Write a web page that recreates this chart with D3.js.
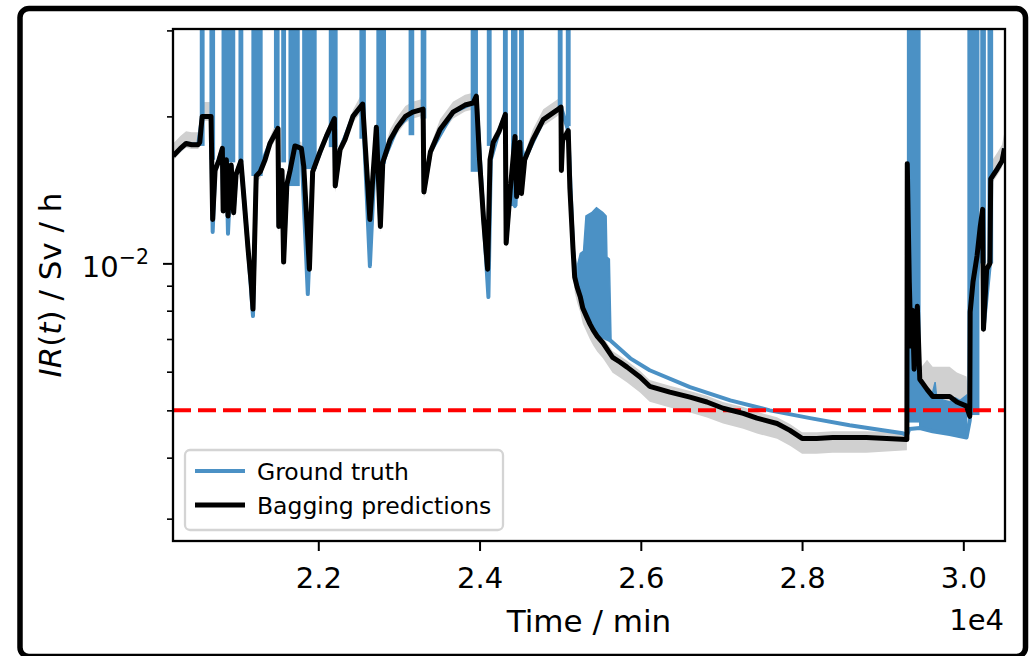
<!DOCTYPE html>
<html>
<head>
<meta charset="utf-8">
<script src="https://cdn.jsdelivr.net/npm/d3@7"></script>
<style>
  html, body { margin: 0; padding: 0; background: #fff; }
  svg { display: block; font-family: "DejaVu Sans", sans-serif; }
</style>
</head>
<body>
<svg id="chart" width="1033" height="656"></svg>
<script>
// bagging predictions (mean of the ensemble), time in minutes, IR in Sv/h
const predTime = [20200, 20290, 20360, 20430, 20510, 20530, 20560, 20670, 20690, 20720,
  20770, 20810, 20820, 20860, 20880, 20920, 20950, 20980, 21040, 21080,
  21130, 21170, 21190, 21230, 21280, 21340, 21400, 21500, 21510, 21550,
  21570, 21610, 21650, 21710, 21790, 21820, 21890, 21930, 22020, 22100,
  22200, 22210, 22270, 22330, 22430, 22550, 22640, 22720, 22770, 22800,
  22890, 22980, 23080, 23170, 23300, 23310, 23390, 23510, 23670, 23820,
  23920, 23960, 24000, 24050, 24100, 24130, 24170, 24240, 24320, 24330,
  24380, 24440, 24460, 24500, 24520, 24560, 24660, 24790, 24960, 25010,
  25015, 25030, 25070, 25100, 25120, 25160, 25180, 25210, 25250, 25280,
  25330, 25370, 25410, 25460, 25530, 25590,
  25650, 25740, 25830, 25990, 26110, 26360, 26610, 26820, 27020, 27270,
  27440, 27690, 27850, 28000, 28180, 28380, 28800, 29300, 29305, 29330,
  29350, 29370, 29390, 29430, 29460, 29550, 29620, 29830, 29920, 30040,
  30080, 30085, 30120, 30170, 30210, 30240, 30250, 30290, 30330, 30340,
  30420, 30480, 30510];
const predValue = [0.0166, 0.0172, 0.0176, 0.0175, 0.0175, 0.0177, 0.0200, 0.0200, 0.0123, 0.0155,
  0.0163, 0.0172, 0.0128, 0.0163, 0.0125, 0.0159, 0.0127, 0.0152, 0.0162, 0.0135,
  0.01065, 0.00903, 0.00806, 0.0151, 0.0154, 0.0163, 0.0176, 0.0189, 0.0119, 0.0155,
  0.01006, 0.0145, 0.0155, 0.0174, 0.0172, 0.0158, 0.00973, 0.0154, 0.0169, 0.0182,
  0.0198, 0.0144, 0.0171, 0.0179, 0.0200, 0.0212, 0.0123, 0.0190, 0.0119, 0.0161,
  0.0179, 0.0190, 0.0200, 0.0204, 0.0207, 0.0140, 0.0169, 0.0188, 0.0204, 0.0211,
  0.0213, 0.0220, 0.0163, 0.0123, 0.00973, 0.0163, 0.0177, 0.0186, 0.0202, 0.0110,
  0.0141, 0.0182, 0.0137, 0.0177, 0.0139, 0.0163, 0.0179, 0.0197, 0.0206, 0.0209,
  0.0155, 0.0179, 0.0183, 0.0187, 0.0143, 0.01065, 0.00937, 0.00894, 0.00853, 0.00810,
  0.00776, 0.00751, 0.00730, 0.00709, 0.00687, 0.00664,
  0.00642, 0.00628, 0.00613, 0.00585, 0.00560, 0.00545, 0.00532, 0.00520, 0.00505, 0.00493,
  0.00482, 0.00470, 0.00455, 0.00438, 0.00438, 0.00440, 0.00440, 0.00436, 0.0160, 0.00916,
  0.00677, 0.00802, 0.00607, 0.00817, 0.00579, 0.00552, 0.00534, 0.00534, 0.00520, 0.00510,
  0.00486, 0.00795, 0.00916, 0.01035, 0.0119, 0.0129, 0.00733, 0.00973, 0.0100, 0.0149,
  0.0156, 0.0162, 0.0172];
// relative spread of the ensemble above / below the mean
const predSpreadUp = [0.06, 0.06, 0.06, 0.06, 0.06, 0.06, 0.07, 0.07, 0.03, 0.03,
  0.03, 0.03, 0.03, 0.03, 0.03, 0.03, 0.03, 0.03, 0.03, 0.03,
  0.03, 0.03, 0.03, 0.03, 0.03, 0.03, 0.03, 0.05, 0.03, 0.03,
  0.03, 0.03, 0.03, 0.03, 0.03, 0.03, 0.03, 0.03, 0.03, 0.03,
  0.03, 0.03, 0.03, 0.03, 0.03, 0.06, 0.03, 0.03, 0.03, 0.03,
  0.05, 0.05, 0.05, 0.05, 0.05, 0.03, 0.03, 0.05, 0.05, 0.05,
  0.05, 0.05, 0.03, 0.03, 0.03, 0.03, 0.03, 0.03, 0.03, 0.03,
  0.03, 0.03, 0.03, 0.03, 0.03, 0.03, 0.05, 0.05, 0.05, 0.05,
  0.03, 0.03, 0.03, 0.03, 0.03, 0.03, 0.03, 0.03, 0.03, 0.03,
  0.03, 0.03, 0.03, 0.03, 0.03, 0.03,
  0.03, 0.03, 0.03, 0.03, 0.03, 0.03, 0.03, 0.03, 0.03, 0.03,
  0.03, 0.03, 0.03, 0.03, 0.03, 0.03, 0.03, 0.03, 0.05, 0.05,
  0.05, 0.05, 0.05, 0.05, 0.05, 0.15, 0.15, 0.15, 0.15, 0.15,
  0.04, 0.04, 0.04, 0.04, 0.04, 0.04, 0.04, 0.04, 0.04, 0.08,
  0.08, 0.08, 0.08];
const predSpreadDown = [0.02, 0.02, 0.02, 0.02, 0.02, 0.02, 0.02, 0.02, 0.03, 0.03,
  0.03, 0.03, 0.03, 0.03, 0.03, 0.03, 0.03, 0.03, 0.03, 0.03,
  0.03, 0.03, 0.03, 0.03, 0.03, 0.03, 0.03, 0.03, 0.03, 0.03,
  0.03, 0.03, 0.03, 0.03, 0.03, 0.03, 0.03, 0.03, 0.03, 0.03,
  0.03, 0.03, 0.03, 0.03, 0.03, 0.03, 0.03, 0.03, 0.03, 0.03,
  0.03, 0.03, 0.03, 0.03, 0.03, 0.03, 0.03, 0.03, 0.03, 0.03,
  0.03, 0.03, 0.03, 0.03, 0.03, 0.03, 0.03, 0.03, 0.03, 0.03,
  0.03, 0.03, 0.03, 0.03, 0.03, 0.03, 0.03, 0.03, 0.03, 0.03,
  0.03, 0.03, 0.03, 0.03, 0.03, 0.03, 0.07, 0.07, 0.07, 0.07,
  0.07, 0.07, 0.07, 0.07, 0.07, 0.07,
  0.07, 0.07, 0.07, 0.07, 0.07, 0.07, 0.07, 0.07, 0.07, 0.07,
  0.07, 0.07, 0.07, 0.07, 0.07, 0.07, 0.07, 0.05, 0.03, 0.03,
  0.03, 0.03, 0.03, 0.03, 0.03, 0.03, 0.03, 0.03, 0.03, 0.03,
  0.03, 0.03, 0.03, 0.03, 0.03, 0.03, 0.03, 0.03, 0.03, 0.03,
  0.03, 0.03, 0.03];

// ground truth
const truthTime = [20200, 20360, 20510, 20560, 20670, 20690, 20720, 20810, 20820, 20860,
  20880, 20920, 20950, 20980, 21040, 21130, 21190, 21230, 21400, 21500,
  21510, 21550, 21570, 21610, 21710, 21790, 21870, 21930, 22100, 22200,
  22210, 22270, 22430, 22550, 22640, 22720, 22770, 22800, 22980, 23170,
  23300, 23310, 23390, 23670, 23920, 23960, 24050, 24110, 24140, 24240,
  24320, 24330, 24380, 24440, 24500, 24560, 24790, 25010, 25100, 25160,
  25200, 25250, 25290, 25330, 25400, 25490, 25620, 25870, 26110, 26610,
  27110, 27600, 28100, 28590, 29000, 29250, 29300, 29330, 29460, 29620,
  29830, 30040, 30080, 30150, 30240, 30250, 30330, 30340, 30480, 30510];
const truthValue = [0.0166, 0.0176, 0.0175, 0.0200, 0.0200, 0.0116, 0.0155, 0.0172, 0.0128, 0.0163,
  0.0115, 0.0159, 0.0127, 0.0152, 0.0162, 0.01065, 0.0078, 0.0151, 0.0176, 0.0189,
  0.0119, 0.0155, 0.0101, 0.0145, 0.0174, 0.0172, 0.00865, 0.0154, 0.0182, 0.0198,
  0.0144, 0.0171, 0.0200, 0.0212, 0.00987, 0.0190, 0.0119, 0.0161, 0.0190, 0.0204,
  0.0207, 0.0140, 0.0169, 0.0204, 0.0213, 0.0220, 0.0123, 0.00853, 0.0163, 0.0186,
  0.0202, 0.0110, 0.0141, 0.0131, 0.0177, 0.0163, 0.0197, 0.0209, 0.0187, 0.01065,
  0.0093, 0.00873, 0.0082, 0.0079, 0.0075, 0.00713, 0.00696, 0.00639, 0.00604, 0.00558,
  0.00524, 0.00500, 0.00482, 0.00466, 0.00455, 0.00449, 0.00444, 0.00458, 0.00460, 0.00453,
  0.00447, 0.00440, 0.00477, 0.00841, 0.0129, 0.00733, 0.0100, 0.0149, 0.0162, 0.0172];

// intervals where the ground truth spikes past the top of the axis
const burstStart = [20530, 20650, 20800, 21010, 21170, 21450, 21540, 21630, 21800, 22130,
  22510, 22720, 23120, 23270, 23890, 24090, 24290, 24390, 24490, 24970,
  25070, 29300, 30050, 30210, 30300];
const burstEnd = [20590, 20720, 20970, 21070, 21310, 21520, 21600, 21770, 21980, 22240,
  22590, 22840, 23190, 23340, 23980, 24150, 24350, 24470, 24550, 25030,
  25130, 29470, 30200, 30280, 30370];
const burstLow = [0.0174, 0.0163, 0.0161, 0.0161, 0.0151, 0.0189, 0.0161, 0.0144, 0.0156, 0.0173,
  0.0180, 0.0160, 0.0183, 0.0198, 0.0154, 0.0174, 0.0189, 0.0131, 0.0139, 0.0206,
  0.0191, 0.00472, 0.00489, 0.0100, 0.0100];

// fast oscillating ground truth (envelope), null splits the two stretches
const noiseTime = [25220, 25250, 25290, 25320, 25390, 25450, 25530, 25570, 25580, 25610, 25630,
  null,
  29460, 29540, 29620, 29650, 29670, 29770, 29830, 29900, 29960, 30040];
const noiseLow = [0.00903, 0.00873, 0.0084, 0.0080, 0.0076, 0.0073, 0.0071, 0.0070, 0.00698, 0.00696, 0.0069,
  null,
  0.00460, 0.00455, 0.00453, 0.00453, 0.00451, 0.00449, 0.00447, 0.00444, 0.00442, 0.00440];
const noiseHigh = [0.0100, 0.01048, 0.0106, 0.0125, 0.0127, 0.0130, 0.0127, 0.0125, 0.0103, 0.0102, 0.00707,
  null,
  0.00563, 0.00550, 0.00545, 0.00571, 0.00530, 0.00524, 0.00520, 0.00530, 0.00524, 0.00537];

const threshold = 0.005;
const xTicks = [22000, 24000, 26000, 28000, 30000];
const yMajorTicks = [0.01];
const yMinorTicks = [0.003, 0.004, 0.005, 0.006, 0.007, 0.008, 0.009, 0.02, 0.03];

const svg = d3.select("#chart");
const margin = { top: 29, right: 28, bottom: 115, left: 173 };
const width = 1033 - margin.left - margin.right;
const height = 656 - margin.top - margin.bottom;

// outer frame
svg.append("rect")
  .attr("x", 20).attr("y", 8.5)
  .attr("width", 1005.5).attr("height", 648)
  .attr("rx", 9)
  .attr("fill", "none")
  .attr("stroke", "#000")
  .attr("stroke-width", 5.5);

const g = svg.append("g")
  .attr("transform", `translate(${margin.left},${margin.top})`);

const x = d3.scaleLinear().domain([20198, 30517]).range([0, width]);
const y = d3.scaleLog().domain([0.0027, 0.0302]).range([height, 0]);

g.append("clipPath").attr("id", "plot-clip")
  .append("rect").attr("width", width).attr("height", height);

const plot = g.append("g").attr("clip-path", "url(#plot-clip)");

const pred = predTime.map((t, i) => ({
  t: t, v: predValue[i],
  lo: predValue[i] * (1 - predSpreadDown[i]),
  hi: predValue[i] * (1 + predSpreadUp[i])
}));
const truth = truthTime.map((t, i) => ({ t: t, v: truthValue[i] }));
const noise = noiseTime.map((t, i) => ({ t: t, lo: noiseLow[i], hi: noiseHigh[i] }));

// ensemble spread
plot.append("path")
  .datum(pred)
  .attr("fill", "#d0d0d0")
  .attr("d", d3.area()
    .x(d => x(d.t))
    .y0(d => y(d.lo))
    .y1(d => y(d.hi)));

const blue = "#4b91c5";

// ground truth
plot.selectAll(".burst")
  .data(burstStart)
  .enter().append("rect")
  .attr("class", "burst")
  .attr("x", (d, i) => x(d))
  .attr("width", (d, i) => x(burstEnd[i]) - x(d))
  .attr("y", y(y.domain()[1]) - 5)
  .attr("height", (d, i) => y(burstLow[i]) - y(y.domain()[1]) + 5)
  .attr("fill", blue);

plot.append("path")
  .datum(noise)
  .attr("fill", blue)
  .attr("stroke", blue)
  .attr("stroke-width", 1.5)
  .attr("d", d3.area()
    .defined(d => d.t != null)
    .x(d => x(d.t))
    .y0(d => y(d.lo))
    .y1(d => y(d.hi)));

plot.append("path")
  .datum(truth)
  .attr("fill", "none")
  .attr("stroke", blue)
  .attr("stroke-width", 4)
  .attr("stroke-linejoin", "round")
  .attr("d", d3.line().x(d => x(d.t)).y(d => y(d.v)));

// dose-rate limit
plot.append("line")
  .attr("x1", 0).attr("x2", width)
  .attr("y1", y(threshold)).attr("y2", y(threshold))
  .attr("stroke", "#ff0000")
  .attr("stroke-width", 4)
  .attr("stroke-dasharray", "18,7");

// bagging mean
plot.append("path")
  .datum(pred)
  .attr("fill", "none")
  .attr("stroke", "#000")
  .attr("stroke-width", 5)
  .attr("stroke-linejoin", "round")
  .attr("d", d3.line().x(d => x(d.t)).y(d => y(d.v)));

// axes
const xAxis = g.append("g")
  .attr("transform", `translate(0,${height})`)
  .call(d3.axisBottom(x).tickValues(xTicks).tickSize(10)
    .tickFormat(d => (d / 1e4).toFixed(1)));
xAxis.select(".domain").remove();
xAxis.selectAll("line").attr("stroke-width", 2);
xAxis.selectAll("text")
  .attr("y", 47).attr("dy", 0)
  .attr("font-size", 29)
  .attr("font-family", "DejaVu Sans")
  .attr("fill", "#000");

const yMinor = g.append("g")
  .call(d3.axisLeft(y).tickValues(yMinorTicks).tickSize(6).tickFormat(""));
yMinor.select(".domain").remove();
yMinor.selectAll("line").attr("stroke-width", 1.6);

const yMajor = g.append("g")
  .call(d3.axisLeft(y).tickValues(yMajorTicks).tickSize(10).tickFormat(""));
yMajor.select(".domain").remove();
yMajor.selectAll("line").attr("stroke-width", 2);

yMajorTicks.forEach(v => {
  const lbl = g.append("text")
    .attr("x", -24)
    .attr("y", y(v) + 13.5)
    .attr("text-anchor", "end")
    .attr("fill", "#000");
  lbl.append("tspan").attr("font-size", 29).text("10");
  lbl.append("tspan").attr("font-size", 20.5).attr("dy", -13)
    .text("\u2212" + Math.round(-Math.log10(v)));
});

// spines
g.append("rect")
  .attr("width", width).attr("height", height)
  .attr("fill", "none")
  .attr("stroke", "#000")
  .attr("stroke-width", 2.3);

// labels
g.append("text")
  .attr("x", width / 2)
  .attr("y", height + 91)
  .attr("text-anchor", "middle")
  .attr("font-size", 31)
  .text("Time / min");

g.append("text")
  .attr("x", width - 1)
  .attr("y", height + 89)
  .attr("text-anchor", "end")
  .attr("font-size", 29)
  .text("1e4");

const yLabel = g.append("text")
  .attr("transform", `translate(${61 - margin.left},${height / 2}) rotate(-90)`)
  .attr("text-anchor", "middle")
  .attr("font-size", 31);
yLabel.append("tspan").attr("font-style", "italic").text("IR");
yLabel.append("tspan").text("(");
yLabel.append("tspan").attr("font-style", "italic").text("t");
yLabel.append("tspan").text(") / Sv / h");

// legend
const legend = g.append("g").attr("transform", "translate(12,421)");
legend.append("rect")
  .attr("width", 318).attr("height", 80)
  .attr("rx", 5)
  .attr("fill", "#fff").attr("fill-opacity", 0.8)
  .attr("stroke", "#d4d4d4").attr("stroke-width", 2.3);

const legendItems = [
  { label: "Ground truth", color: blue, w: 4 },
  { label: "Bagging predictions", color: "#000", w: 5 }
];
legendItems.forEach((d, i) => {
  const row = legend.append("g").attr("transform", `translate(0,${21 + i * 34})`);
  row.append("line")
    .attr("x1", 10).attr("x2", 60)
    .attr("stroke", d.color).attr("stroke-width", d.w);
  row.append("text")
    .attr("x", 72).attr("y", 9)
    .attr("font-size", 23.5)
    .text(d.label);
});
</script>
</body>
</html>
